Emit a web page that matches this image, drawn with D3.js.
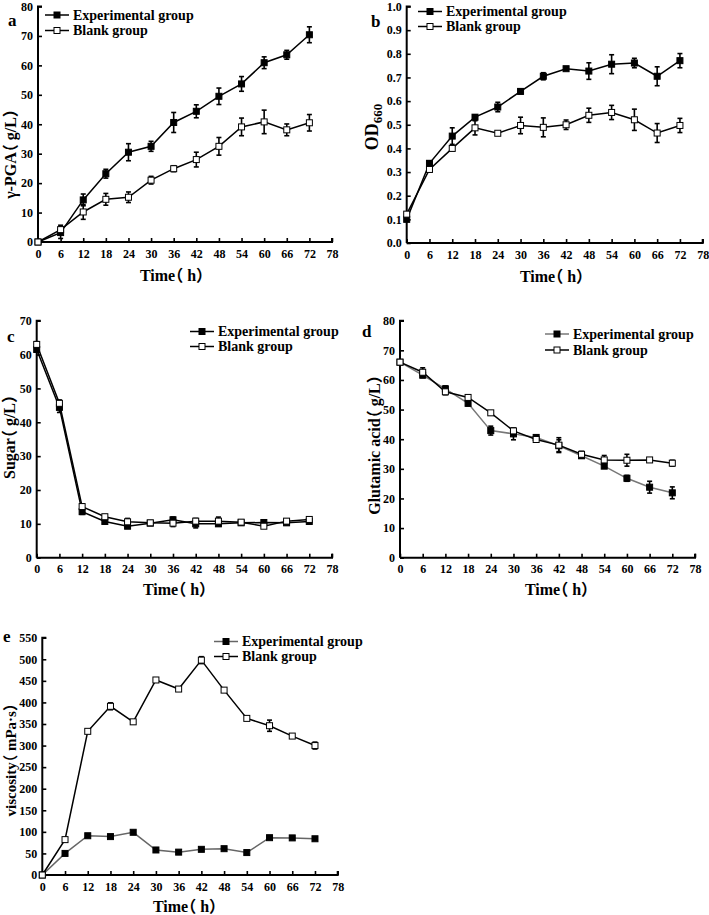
<!DOCTYPE html>
<html><head><meta charset="utf-8">
<script src="https://cdn.jsdelivr.net/npm/d3@7"></script>
<style>body{margin:0;background:#fff}svg{display:block}.ttl{font-feature-settings:"halt" 1}</style>
</head><body>
<script>
const hours = [0,6,12,18,24,30,36,42,48,54,60,66,72];
const xTicks = [0,6,12,18,24,30,36,42,48,54,60,66,72,78];
const seriesNames = ["Experimental group","Blank group"];

// a: γ-PGA (g/L)
const pgaExp = [0,3.2,14.3,23.2,30.5,32.5,40.6,44.4,49.5,53.7,60.9,63.6,70.4];
const pgaExpErr = [0,2,2,1.5,2.9,1.7,3.4,2.2,2.8,2.5,2,1.5,2.7];
const pgaBlank = [0,4.2,10.2,14.5,15.2,21,24.9,28,32.5,39.1,40.8,38.1,40.5];
const pgaBlankErr = [0,1.5,2.5,2,1.8,1.3,1,2.5,3,3,4,2,2.8];
const pgaTicks = [0,10,20,30,40,50,60,70,80];

// b: OD660
const odExp = [0.10,0.337,0.452,0.532,0.575,0.641,0.705,0.737,0.727,0.756,0.761,0.705,0.771];
const odExpErr = [0,0.01,0.035,0.01,0.02,0.01,0.015,0.005,0.035,0.04,0.02,0.04,0.03];
const odBlank = [0.122,0.311,0.40,0.487,0.464,0.497,0.489,0.50,0.54,0.552,0.521,0.465,0.497];
const odBlankErr = [0,0.01,0.01,0.03,0.005,0.035,0.04,0.02,0.03,0.03,0.045,0.04,0.03];
const odTicks = [0,0.1,0.2,0.3,0.4,0.5,0.6,0.7,0.8,0.9,1.0];

// c: Sugar (g/L)
const sugarExp = [61.5,44.4,13.6,10.7,9.3,10.2,11.2,10,10,10.3,10.4,10.3,10.7];
const sugarExpErr = [0.8,1.5,0.8,0.5,0.6,0.6,0.8,1.2,0.6,0.5,0.6,0.5,0.6];
const sugarBlank = [63,45.6,15.1,12.1,10.6,10.3,10.2,10.8,10.8,10.5,9.3,10.8,11.3];
const sugarBlankErr = [0.8,1,0.8,0.6,1,0.6,1,0.8,1.2,0.5,0.6,0.6,0.6];
const sugarTicks = [0,10,20,30,40,50,60,70];

// d: Glutamic acid (g/L)
const gluExp = [66,61.6,57,52.1,42.9,41.8,40.6,37.8,34.4,30.9,26.8,23.8,21.9];
const gluExpErr = [0.5,0.8,1,0.8,1.5,2,0.8,2,0.8,0.6,1,2,2];
const gluBlank = [66,62.6,56,54.1,48.9,42.8,39.9,38,34.9,33,32.9,33,31.9];
const gluBlankErr = [0.5,1.5,1,0.8,0.6,0.8,0.6,2.5,1,1.5,2,0.6,1];
const gluTicks = [0,10,20,30,40,50,60,70,80];

// e: viscosity (mPa·s)
const viscExp = [0,50,91,89,99,58,53,59.5,61,52,86.5,86,84];
const viscExpErr = [0,3,3,3,3,3,3,3,3,3,3,3,3];
const viscBlank = [0,82,333,391,355,452,431,498,428.5,363,346,322,300];
const viscBlankErr = [0,4,4,8,4,4,5,8,4,4,13,4,8];
const viscTicks = [0,50,100,150,200,250,300,350,400,450,500,550];

const W = 709, H = 915;
const svg = d3.select("body").append("svg").attr("width", W).attr("height", H);
const FONT = "'Liberation Serif','Times New Roman','Noto Sans CJK SC',serif";

function panel(o) {
  const x = d3.scaleLinear().domain([0,78]).range([o.x0, o.x1]);
  const y = d3.scaleLinear().domain([o.yTicks[0], o.yTicks[o.yTicks.length-1]]).range([o.y0, o.y1]);
  const g = svg.append("g").attr("font-family", FONT).attr("font-weight", "bold");

  const ax = g.append("g").attr("transform", `translate(0,${o.y0})`)
    .call(d3.axisBottom(x).tickValues(xTicks).tickSizeInner(-4).tickSizeOuter(0).tickPadding(7));
  const ay = g.append("g").attr("transform", `translate(${o.x0},0)`)
    .call(d3.axisLeft(y).tickValues(o.yTicks).tickFormat(o.fmt || d3.format("d")).tickSizeInner(-4).tickSizeOuter(0).tickPadding(5));
  [ax, ay].forEach(a => {
    a.select(".domain").attr("stroke", "#000").attr("stroke-width", 2);
    a.selectAll(".tick line").attr("stroke", "#000").attr("stroke-width", 1.6);
    a.selectAll(".tick text").attr("fill", "#000").attr("font-size", 12).attr("font-family", FONT).attr("font-weight", "bold");
  });
  ax.select(".domain").attr("d", `M${o.x0},0H${o.x1}V-4`);
  ay.select(".domain").attr("d", `M0,${o.y0}V${o.y1}H4`);

  const series = [
    {vals: o.exp, err: o.expErr, fill: "#000", stroke: o.expColor || "#000"},
    {vals: o.blank, err: o.blankErr, fill: "#fff", stroke: o.blankColor || "#000"}
  ];
  const line = d3.line().x((d,i) => x(hours[i])).y(d => y(d));
  series.forEach(s => {
    g.append("path").attr("d", line(s.vals)).attr("fill", "none").attr("stroke", s.stroke).attr("stroke-width", 1.5);
  });
  series.forEach(s => {
    const eg = g.append("g");
    s.vals.forEach((v,i) => {
      const e = s.err[i];
      if (e > 0) {
        const cx = x(hours[i]);
        eg.append("line").attr("x1", cx).attr("x2", cx).attr("y1", y(v-e)).attr("y2", y(v+e)).attr("stroke", "#000").attr("stroke-width", 1.6);
        [v-e, v+e].forEach(t => eg.append("line").attr("x1", cx-2.5).attr("x2", cx+2.5).attr("y1", y(t)).attr("y2", y(t)).attr("stroke", "#000").attr("stroke-width", 1.6));
      }
    });
    eg.selectAll("rect").data(s.vals).enter().append("rect")
      .attr("x", (d,i) => x(hours[i]) - 3).attr("y", d => y(d) - 3)
      .attr("width", 6).attr("height", 6)
      .attr("fill", s.fill).attr("stroke", "#000").attr("stroke-width", 1);
  });

  series.forEach((s,i) => {
    const ly = o.legY + i*o.legDy;
    g.append("line").attr("x1", o.legX).attr("x2", o.legX + 24).attr("y1", ly).attr("y2", ly).attr("stroke", s.stroke).attr("stroke-width", 1.5);
    g.append("rect").attr("x", o.legX + 12 - 3).attr("y", ly - 3).attr("width", 6).attr("height", 6)
      .attr("fill", s.fill).attr("stroke", "#000").attr("stroke-width", 1);
    g.append("text").attr("x", o.legX + 28).attr("y", ly).attr("dy", "0.35em").attr("font-size", 14).text(seriesNames[i]);
  });

  g.append("text").attr("x", o.lx).attr("y", o.ly).attr("font-size", 17).text(o.letter);

  g.append("text").attr("class", "ttl").attr("x", o.tx).attr("y", o.ty).attr("text-anchor", "middle").attr("font-size", 16).text("Time（ h）");
  const yt = g.append("text").attr("class", "ttl").attr("transform", `translate(${o.yx},${o.yy}) rotate(-90)`)
    .attr("text-anchor", "middle").attr("font-size", o.ytSize || 16);
  if (o.ytitleParts) {
    o.ytitleParts.forEach(p => { const ts = yt.append("tspan").text(p.t); if (p.sub) ts.attr("font-size", 13).attr("dy", 4); });
  } else yt.text(o.ytitle);
}

panel({letter:"a", lx:8, ly:26, x0:38, x1:332, y0:242, y1:6.5, yTicks:pgaTicks,
  exp:pgaExp, expErr:pgaExpErr, blank:pgaBlank, blankErr:pgaBlankErr,
  legX:45, legY:15, legDy:15.5, tx:172, ty:281, ytitle:"γ-PGA（ g/L）", yx:16, yy:154, ytSize:16});

panel({letter:"b", lx:371, ly:27, x0:406.7, x1:702.7, y0:243, y1:6.5, yTicks:odTicks, fmt:d3.format(".1f"),
  exp:odExp, expErr:odExpErr, blank:odBlank, blankErr:odBlankErr,
  legX:418, legY:11.5, legDy:15, tx:552, ty:282, ytitleParts:[{t:"OD"},{t:"660", sub:true}], yx:378, yy:127, ytSize:18});

panel({letter:"c", lx:7, ly:342, x0:36.7, x1:332, y0:557.7, y1:320.7, yTicks:sugarTicks,
  exp:sugarExp, expErr:sugarExpErr, blank:sugarBlank, blankErr:sugarBlankErr,
  legX:190, legY:331.5, legDy:15, tx:175, ty:595, ytitle:"Sugar（ g/L）", yx:15, yy:437, ytSize:16});

panel({letter:"d", lx:362, ly:337, x0:400, x1:695, y0:557.7, y1:320.7, yTicks:gluTicks,
  exp:gluExp, expErr:gluExpErr, blank:gluBlank, blankErr:gluBlankErr, expColor:"#777",
  legX:545, legY:334, legDy:16, tx:557, ty:595, ytitle:"Glutamic acid（ g/L）", yx:380, yy:445, ytSize:16});

panel({letter:"e", lx:3, ly:642, x0:42.3, x1:337.7, y0:875, y1:637.7, yTicks:viscTicks,
  exp:viscExp, expErr:viscExpErr, blank:viscBlank, blankErr:viscBlankErr, expColor:"#666",
  legX:214, legY:641.5, legDy:15, tx:185, ty:912, ytitle:"viscosity（ mPa·s）", yx:16, yy:760, ytSize:15});
</script>
</body></html>
